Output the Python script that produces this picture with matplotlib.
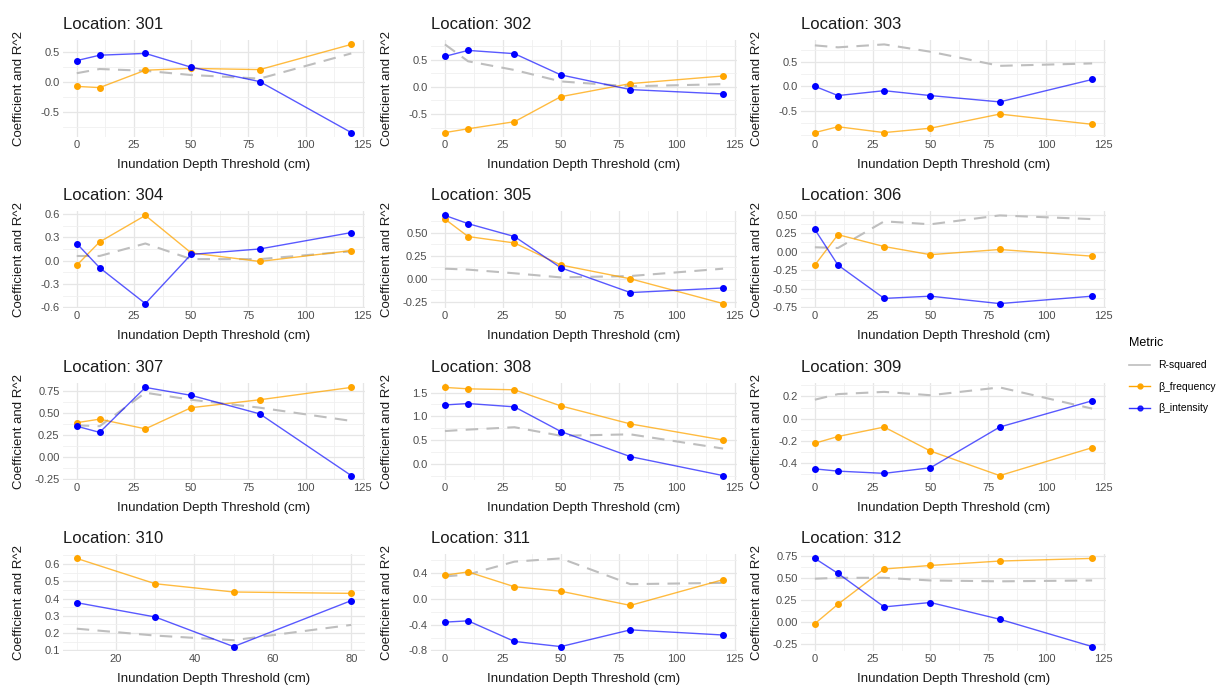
import matplotlib
matplotlib.use('Agg')
import matplotlib.pyplot as plt
from matplotlib.lines import Line2D
from matplotlib.ticker import AutoMinorLocator, FixedLocator, FixedFormatter

plt.rcParams['font.family'] = ['Liberation Sans', 'DejaVu Sans']

locations = ['301', '302', '303', '304', '305', '306',
             '307', '308', '309', '310', '311', '312']
depths = [0, 10, 30, 50, 80, 120]
depths_310 = [10, 30, 50, 80]

r_squared = {
    '301': [0.14, 0.21, 0.18, 0.11, 0.05, 0.47],
    '302': [0.78, 0.47, 0.31, 0.10, 0.01, 0.05],
    '303': [0.84, 0.80, 0.86, 0.71, 0.42, 0.47],
    '304': [0.06, 0.06, 0.22, 0.02, 0.02, 0.12],
    '305': [0.11, 0.10, 0.06, 0.015, 0.03, 0.11],
    '306': [0.06, 0.05, 0.41, 0.37, 0.49, 0.44],
    '307': [0.36, 0.35, 0.73, 0.65, 0.56, 0.41],
    '308': [0.69, 0.72, 0.77, 0.59, 0.62, 0.32],
    '309': [0.17, 0.22, 0.24, 0.21, 0.28, 0.09],
    '310': [0.225, 0.185, 0.158, 0.247],
    '311': [0.35, 0.38, 0.58, 0.63, 0.23, 0.25],
    '312': [0.49, 0.50, 0.50, 0.47, 0.46, 0.47],
}
beta_frequency = {
    '301': [-0.08, -0.10, 0.19, 0.22, 0.20, 0.62],
    '302': [-0.84, -0.77, -0.64, -0.18, 0.06, 0.20],
    '303': [-0.95, -0.83, -0.95, -0.86, -0.57, -0.78],
    '304': [-0.06, 0.24, 0.58, 0.10, -0.01, 0.13],
    '305': [0.65, 0.46, 0.39, 0.15, 0.00, -0.27],
    '306': [-0.18, 0.23, 0.07, -0.04, 0.03, -0.06],
    '307': [0.39, 0.43, 0.32, 0.56, 0.65, 0.79],
    '308': [1.61, 1.58, 1.56, 1.22, 0.84, 0.50],
    '309': [-0.22, -0.16, -0.075, -0.29, -0.51, -0.26],
    '310': [0.633, 0.486, 0.438, 0.43],
    '311': [0.37, 0.42, 0.19, 0.12, -0.10, 0.30],
    '312': [-0.02, 0.20, 0.60, 0.64, 0.69, 0.72],
}
beta_intensity = {
    '301': [0.35, 0.44, 0.47, 0.24, 0.00, -0.85],
    '302': [0.56, 0.67, 0.61, 0.22, -0.05, -0.13],
    '303': [0.00, -0.19, -0.09, -0.19, -0.32, 0.14],
    '304': [0.22, -0.09, -0.55, 0.08, 0.15, 0.36],
    '305': [0.69, 0.60, 0.46, 0.12, -0.15, -0.10],
    '306': [0.30, -0.18, -0.63, -0.60, -0.70, -0.60],
    '307': [0.35, 0.28, 0.79, 0.70, 0.49, -0.21],
    '308': [1.24, 1.27, 1.20, 0.68, 0.15, -0.25],
    '309': [-0.45, -0.47, -0.49, -0.44, -0.075, 0.16],
    '310': [0.376, 0.293, 0.121, 0.388],
    '311': [-0.36, -0.34, -0.66, -0.74, -0.48, -0.56],
    '312': [0.72, 0.55, 0.17, 0.22, 0.03, -0.28],
}
y_breaks = {
    '301': ['-0.5', '0.0', '0.5'],
    '302': ['-0.5', '0.0', '0.5'],
    '303': ['-0.5', '0.0', '0.5'],
    '304': ['-0.6', '-0.3', '0.0', '0.3', '0.6'],
    '305': ['-0.25', '0.00', '0.25', '0.50'],
    '306': ['-0.75', '-0.50', '-0.25', '0.00', '0.25', '0.50'],
    '307': ['-0.25', '0.00', '0.25', '0.50', '0.75'],
    '308': ['0.0', '0.5', '1.0', '1.5'],
    '309': ['-0.4', '-0.2', '0.0', '0.2'],
    '310': ['0.1', '0.2', '0.3', '0.4', '0.5', '0.6'],
    '311': ['-0.8', '-0.4', '0.0', '0.4'],
    '312': ['-0.25', '0.00', '0.25', '0.50', '0.75'],
}
x_breaks = [0, 25, 50, 75, 100, 125]
x_breaks_310 = [20, 40, 60, 80]

W, H = 1226, 689
fig = plt.figure(figsize=(W / 100, H / 100), dpi=100)

col_left = [63, 431, 801]
col_width = [302, 306, 305]
row_top = [40, 211, 383, 554]
row_h = 97

grey_txt = '#4d4d4d'

for i, loc in enumerate(locations):
    r, c = divmod(i, 3)
    ax = fig.add_axes([col_left[c] / W, 1 - (row_top[r] + row_h) / H,
                       col_width[c] / W, row_h / H])
    xs = depths_310 if loc == '310' else depths
    ax.plot(xs, r_squared[loc], color='#bebebe', lw=1.5, dashes=(6, 4), zorder=2)
    ax.plot(xs, beta_frequency[loc], color='orange', lw=1.0, alpha=0.75, zorder=3)
    ax.plot(xs, beta_frequency[loc], 'o', color='orange', ms=4, zorder=4)
    ax.plot(xs, beta_intensity[loc], color='blue', lw=1.0, alpha=0.65, zorder=3)
    ax.plot(xs, beta_intensity[loc], 'o', color='blue', ms=4, zorder=4)

    allv = r_squared[loc] + beta_frequency[loc] + beta_intensity[loc]
    lo, hi = min(allv), max(allv)
    pad = (hi - lo) * 0.05
    ax.set_ylim(lo - pad, hi + pad)
    xpad = (max(xs) - min(xs)) * 0.05
    ax.set_xlim(min(xs) - xpad, max(xs) + xpad)

    labels = y_breaks[loc]
    ax.yaxis.set_major_locator(FixedLocator([float(s) for s in labels]))
    ax.yaxis.set_major_formatter(FixedFormatter(labels))
    xb = x_breaks_310 if loc == '310' else x_breaks
    ax.set_xticks(xb)
    ax.set_xticklabels([str(v) for v in xb])
    ax.xaxis.set_minor_locator(AutoMinorLocator(2))
    ax.yaxis.set_minor_locator(AutoMinorLocator(2))

    ax.grid(which='major', color='#e6e6e6', lw=0.9)
    ax.grid(which='minor', color='#f0f0f0', lw=0.6)
    ax.set_axisbelow(True)
    for s in ax.spines.values():
        s.set_visible(False)
    ax.tick_params(which='both', length=0, labelsize=8, labelcolor=grey_txt, pad=2.5)

    ax.set_title('Location: ' + loc, loc='left', fontsize=12, color='#1a1a1a', pad=8)
    ax.set_xlabel('Inundation Depth Threshold (cm)', fontsize=9.5, color='#1a1a1a')
    ax.set_ylabel('Coefficient and R^2', fontsize=9.5, color='#1a1a1a')
    ax.xaxis.set_label_coords(0.5, -22 / row_h)
    ax.yaxis.set_label_coords(-38 / col_width[c], 0.5)

handles = [
    Line2D([], [], color='#bebebe', lw=1.2),
    Line2D([], [], color='orange', lw=1.0, marker='o', ms=3.5),
    Line2D([], [], color='blue', lw=1.0, marker='o', ms=3.5, alpha=0.8),
]
leg = fig.legend(handles, ['R-squared', 'β_frequency', 'β_intensity'],
                 title='Metric', loc='center left',
                 bbox_to_anchor=(1120 / W, 1 - 375 / H), frameon=False,
                 fontsize=7.5, title_fontsize=9, handlelength=2.0,
                 labelspacing=1.1, alignment='left')

fig.savefig('out.png', dpi=100)
